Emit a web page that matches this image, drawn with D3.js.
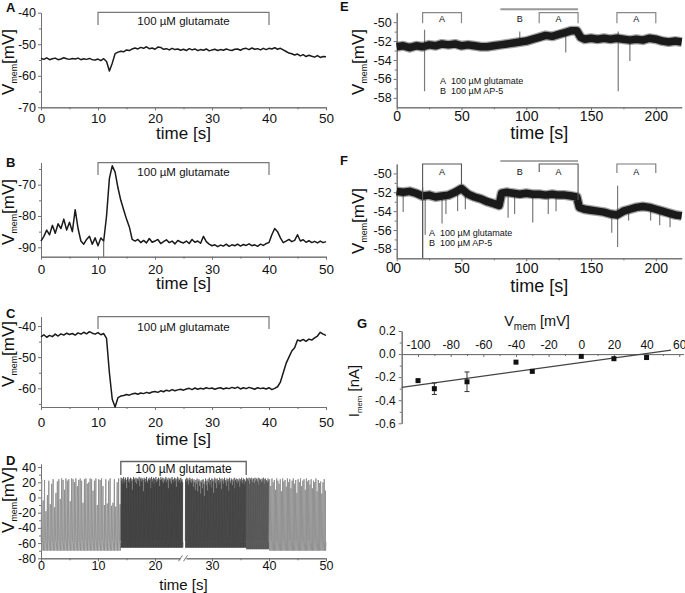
<!DOCTYPE html>
<html><head><meta charset="utf-8">
<script src="https://cdn.jsdelivr.net/npm/d3@7"></script>
<style>
body{margin:0;background:#fff;}
svg{display:block;background:#fff;}
</style></head><body>
<svg id="c" width="685" height="593"></svg>
<script>
// ---------------- DATA ----------------
const timeStepABC = 0.5; // s between samples in A, B, C
const aV = [-54.5,-54.8,-54.3,-54.9,-54.6,-54.4,-54.9,-54.7,-54.3,-54.6,
-54.8,-54.5,-54.7,-54.4,-54.9,-54.6,-54.8,-54.5,-54.9,-55.0,
-54.7,-55.2,-54.6,-55.5,-58.5,-56.0,-53.0,-52.5,-52.2,-52.4,
-51.8,-52.0,-51.5,-51.2,-51.5,-51.0,-51.3,-50.8,-51.4,-51.2,
-51.6,-50.9,-51.0,-51.6,-51.4,-51.8,-51.3,-51.7,-51.5,-51.9,
-51.6,-52.0,-51.4,-51.8,-51.5,-52.0,-51.7,-51.9,-51.5,-52.1,
-51.8,-51.6,-52.0,-51.7,-51.9,-51.5,-51.8,-52.0,-51.6,-51.5,
-51.9,-51.4,-51.3,-51.7,-51.2,-51.6,-51.4,-51.8,-51.3,-51.7,
-51.3,-51.5,-51.1,-51.6,-51.3,-51.8,-52.3,-52.8,-53.0,-53.4,
-53.1,-53.7,-53.3,-53.9,-53.5,-53.8,-54.1,-53.6,-54.2,-53.9,-54.0];
const bV = [-88.0,-86.5,-84.5,-86.0,-83.0,-85.5,-82.5,-84.0,-81.0,-84.5,
-82.0,-85.0,-78.0,-84.0,-88.0,-89.0,-87.5,-86.5,-89.0,-87.0,
-89.5,-87.0,-88.0,-80.0,-68.0,-64.0,-66.0,-71.0,-75.0,-78.0,
-81.0,-83.5,-87.5,-88.0,-87.5,-88.5,-87.8,-88.6,-87.2,-88.4,
-88.0,-87.5,-88.8,-88.2,-87.6,-88.5,-88.0,-88.9,-87.8,-88.3,
-88.6,-88.0,-88.8,-87.5,-88.4,-88.0,-88.7,-86.5,-88.2,-89.0,
-89.5,-89.2,-89.8,-89.3,-89.6,-89.0,-89.7,-89.2,-89.5,-89.0,
-89.6,-89.1,-89.4,-88.9,-89.5,-89.2,-89.7,-89.0,-89.4,-88.8,
-88.5,-86.0,-84.0,-85.0,-87.0,-88.5,-88.0,-87.5,-88.2,-87.8,
-86.0,-88.0,-87.6,-88.4,-87.9,-88.5,-88.1,-88.6,-88.0,-88.5,-88.2];
const bDropT = [11], bDropV = [-93];
const cV = [-43.5,-42.8,-43.6,-43.0,-43.4,-42.6,-43.2,-42.5,-42.9,-42.3,
-42.7,-42.4,-42.9,-42.2,-42.6,-42.0,-42.5,-41.8,-42.3,-42.6,
-42.1,-42.8,-42.4,-44.0,-55.0,-63.5,-66.0,-63.0,-62.5,-62.3,
-62.0,-62.2,-61.8,-61.6,-61.9,-61.5,-61.7,-61.3,-61.6,-61.2,
-61.0,-61.3,-60.8,-61.1,-60.6,-60.9,-60.4,-60.8,-60.5,-60.3,
-60.6,-60.2,-60.0,-60.4,-59.9,-60.3,-60.0,-60.2,-59.8,-60.1,
-59.9,-60.3,-60.0,-59.8,-60.2,-59.9,-60.1,-59.7,-60.0,-59.6,
-60.2,-59.8,-60.1,-59.7,-60.0,-60.3,-59.8,-60.1,-59.9,-60.2,
-59.8,-60.4,-60.0,-59.5,-58.0,-55.0,-52.0,-50.0,-48.0,-47.0,
-44.5,-44.8,-44.3,-44.9,-44.2,-44.5,-43.8,-43.2,-42.0,-42.6,-43.0];
// D: spike peak values (mV) per recording segment
const dSegT = [[0,14],[14,24.9],[25.3,36],[36,40],[40,50]];
const dPre = [24,-4,23,-18,3,22,-9,18,24,-13,6,21,24,-2,25,23,10,25,22,24,-5,25,24,20,25,15,23,25,22,-7,24,25,18,20,25,24,9,22,25,-10,24,23,25,15,-10,24,-8,22,25,-11,-7,24,-12,20,25,-9];
const dGlut1 = [26,22,25,18,27,24,20,26,23,12,25,27,21,24,19,26,25,22,10,24,27,23,25,20,26,18,24,25,22,27,15,24,26,21,25,23,8,26,24,20,25,27,22,19,24,26,23,25,12,27,21,24,26,18,25,23,27,20,24,22,26,25,15,23,27,24,21,26,19,25,22,24,27,20,25,23,12,26,24,21,25,18,27,23,24,20,26,22,25,14,24,27,21,25,23,19,26,22,24,20];
const dGlut2 = [24,20,26,22,25,17,23,26,21,24,19,25,22,14,24,20,10,23,18,25,8,21,24,15,22,5,20,23,12,24,18,2,21,25,16,22,9,24,20,26,17,23,13,25,21,24,6,22,26,19,24,12,25,21,23,17,26,20,24,11,25,22,18,24,26,20,23,15,25,21,24,9,26,22,19,25,23,16,24,21,26,12,23,25,20,24,18,22,25,14,24,21,26,19,23,25,17,24,22,20];
const dPost1 = [26,24,25,22,26,18,25,23,26,20,24,25,19,26,22,25,24,21,26,17,25,23,24,20,25,22,26,18,24,25,21,23,20,25,22];
const dPost2 = [24,15,25,20,23,10,25,22,18,24,8,25,21,23,14,25,20,24,12,22,25,18,23,6,24,20,25,15,22,24,10,25,21,23,17,24,12,22,20,25,8,23,19,21,5,20,24,9];
const dTrough = [-70,-66,-66,-68,-70];
// E
const eT = [0,5,10,15,20,25,30,35,40,45,50,55,60,65,70,75,80,85,90,95,100,105,110,115,120,125,130,135,139,142,145,150,155,160,165,170,175,180,185,190,195,200,205,210,215,220];
const eV = [-52.6,-52.5,-52.7,-52.5,-52.6,-52.4,-52.5,-52.3,-52.4,-52.3,-52.5,-52.4,-52.5,-52.6,-52.6,-52.5,-52.4,-52.3,-52.2,-52.1,-52.0,-51.8,-51.6,-51.4,-51.5,-51.3,-51.1,-50.9,-50.9,-51.6,-51.8,-51.7,-51.8,-51.7,-51.8,-51.7,-51.8,-51.9,-51.8,-51.9,-51.7,-51.8,-52.0,-52.1,-52.0,-52.1];
const eSpikeT = [21.5,95,130.5,171,180];
const eSpikeLo = [-57.3,-52.5,-53.2,-57.3,-54.1];
const eSpikeHi = [-50.8,-51.0,-51.0,-51.0,-51.5];
// F
const fT = [0,5,10,15,20,25,30,35,40,45,50,55,60,65,70,75,79,81,85,90,95,100,105,110,115,120,125,130,135,139,141,145,150,155,160,165,170,175,180,185,190,195,200,205,210,215,220];
const fV = [-51.9,-52.0,-51.9,-52.1,-52.4,-52.3,-52.5,-52.4,-52.3,-52.0,-51.6,-52.2,-52.5,-52.7,-53.0,-53.2,-53.4,-52.1,-52.0,-52.1,-52.2,-52.1,-52.2,-52.2,-52.3,-52.2,-52.3,-52.3,-52.4,-52.5,-53.6,-53.8,-53.9,-54.0,-54.1,-54.3,-54.4,-54.0,-53.8,-53.6,-53.5,-53.6,-53.8,-54.0,-54.2,-54.4,-54.5];
const fSpikeT = [5,20,22,35,38,47,53,86,91,105,117,123,166,170.5,179,196,203,211];
const fSpikeLo = [-54.1,-59,-56.5,-55.3,-54.3,-54.0,-53.8,-54.7,-54.3,-55.2,-54.3,-54.0,-56.3,-57.8,-55.0,-55.0,-55.5,-55.7];
const fSpikeHi = [-52,-51.5,-52.3,-52.4,-52.4,-52.1,-52.3,-52.1,-52.1,-52.2,-52.3,-52.2,-54.2,-51.3,-53.9,-53.6,-54.0,-54.2];
// brackets (s)
const glutWin = [10,40];
const glutWinD = [14,36];
const efA = [[20,50],[110,140],[170,200]];
const efB = [80,140];
const legendLetters = ["A","B"];
const legendTexts = ["100 µM glutamate","100 µM AP-5"];
// G
const gV = [-100,-90,-70,-40,-30,0,20,40];
const gI = [-0.23,-0.30,-0.24,-0.07,-0.15,-0.02,-0.04,-0.03];
const gErr = [0,0.05,0.085,0,0,0,0,0];
const gFitV = [-110,55];
const gFitI = [-0.288,0.034];
// ticks
const tMaj50 = [0,10,20,30,40,50], tMin50 = [5,15,25,35,45];
const tMaj220 = [0,50,100,150,200], tMin220 = [25,75,125,175];

// ---------------- DRAW ----------------
const FONT = '"Liberation Sans", Arial, Helvetica, sans-serif';
const AX = "#707070";
const svg = d3.select("#c").attr("font-family", FONT);
const fmt = d => (d < 0 ? "-" : "") + Math.abs(d);

function styleAx(sel, fs) {
  sel.attr("font-family", FONT).attr("font-size", fs);
  sel.select(".domain").attr("stroke", AX).attr("stroke-width", 1);
  sel.selectAll(".tick line").attr("stroke", AX);
  sel.selectAll(".tick text").attr("fill", "#111");
  return sel;
}
function text(g, x, y, s, o = {}) {
  return g.append("text").attr("x", x).attr("y", y).text(s)
    .attr("font-size", o.fs || 12).attr("text-anchor", o.anchor || "middle")
    .attr("font-weight", o.bold ? "bold" : null).attr("fill", o.fill || "#111");
}
function vLabel(g, cx, cy, fs, main, sub, rest) {
  const t = g.append("text").attr("transform", `translate(${cx},${cy}) rotate(-90)`)
    .attr("text-anchor", "middle").attr("font-size", fs).attr("fill", "#111");
  t.append("tspan").text(main);
  t.append("tspan").attr("font-size", fs * 0.52).attr("dy", fs * 0.18).text(sub);
  t.append("tspan").attr("dy", -fs * 0.18).text(rest);
  return t;
}
function timePanel(o) {
  const g = svg.append("g");
  const x = d3.scaleLinear().domain(o.xd).range(o.xr);
  const y = d3.scaleLinear().domain(o.yd).range(o.yr);
  styleAx(g.append("g").attr("transform", `translate(${o.xr[0]},0)`)
    .call(d3.axisLeft(y).tickValues(o.yMin).tickSize(2).tickFormat("").tickSizeOuter(0)), 10);
  styleAx(g.append("g").attr("transform", `translate(${o.xr[0]},0)`)
    .call(d3.axisLeft(y).tickValues(o.yMaj).tickSize(3).tickPadding(2).tickFormat(fmt).tickSizeOuter(0)), o.yfs);
  styleAx(g.append("g").attr("transform", `translate(0,${o.yr[0]})`)
    .call(d3.axisBottom(x).tickValues(o.xMin).tickSize(2).tickFormat("").tickSizeOuter(0)), 10);
  styleAx(g.append("g").attr("transform", `translate(0,${o.yr[0]})`)
    .call(d3.axisBottom(x).tickValues(o.xMaj).tickSize(3).tickPadding(o.xpad).tickFormat(fmt).tickSizeOuter(0)), o.xfs);
  text(g, (o.xr[0] + o.xr[1]) / 2, o.titleY, "time [s]", {fs: o.tfs});
  text(g, o.lab[0], o.lab[1], o.name, {fs: 13, bold: true, anchor: "start"});
  vLabel(g, o.vl[0], o.vl[1], o.vfs, "V", "mem", "[mV]");
  return {g, x, y};
}
function bracket(g, x, t0, t1, top, leg0, leg1, col, w) {
  g.append("path").attr("d", `M${x(t0)},${leg0}V${top}H${x(t1)}V${leg1}`)
    .attr("fill", "none").attr("stroke", col || "#777").attr("stroke-width", w || 1.2);
}
function trace(g, x, y, vals, col, w) {
  const line = d3.line().x((d, i) => x(i * timeStepABC)).y(d => y(d));
  g.append("path").attr("d", line(vals)).attr("fill", "none")
    .attr("stroke", col || "#1a1a1a").attr("stroke-width", w || 1.5).attr("stroke-linejoin", "round");
}
function legend(g, x0, y0, dy) {
  legendLetters.forEach((L, i) => {
    text(g, x0, y0 + i * dy, L, {fs: 9, anchor: "start"});
    text(g, x0 + 11, y0 + i * dy, legendTexts[i], {fs: 9, anchor: "start"});
  });
}

// ---- A ----
{
  const p = timePanel({xd:[0,50], xr:[41,326], yd:[-70,-40], yr:[107.3,12.7],
    yMaj:[-40,-50,-60,-70], yMin:[-45,-55,-65], xMaj:tMaj50, xMin:tMin50,
    yfs:12.5, xfs:13.5, xpad:3, titleY:139, tfs:17, lab:[6,12], name:"A", vl:[14,62], vfs:17});
  bracket(p.g, p.x, glutWin[0], glutWin[1], 12.3, 25, 25);
  text(p.g, p.x(25), 25, "100 µM glutamate", {fs: 11.5});
  trace(p.g, p.x, p.y, aV);
}
// ---- B ----
{
  const p = timePanel({xd:[0,50], xr:[41,326], yd:[-93,-63], yr:[256.7,162.7],
    yMaj:[-70,-80,-90], yMin:[-65,-75,-85], xMaj:tMaj50, xMin:tMin50,
    yfs:12.5, xfs:13.5, xpad:4.5, titleY:289, tfs:17, lab:[6,167], name:"B", vl:[14,212], vfs:17});
  bracket(p.g, p.x, glutWin[0], glutWin[1], 162.7, 175, 175);
  text(p.g, p.x(25), 175.5, "100 µM glutamate", {fs: 11.5});
  trace(p.g, p.x, p.y, bV);
  p.g.selectAll("line.drop").data(bDropT).enter().append("line")
    .attr("x1", d => p.x(d)).attr("x2", d => p.x(d))
    .attr("y1", p.y(-88)).attr("y2", (d, i) => p.y(bDropV[i]))
    .attr("stroke", "#555").attr("stroke-width", 1);
}
// ---- C ----
{
  const p = timePanel({xd:[0,50], xr:[41,326], yd:[-66,-37], yr:[407,316.7],
    yMaj:[-40,-50,-60], yMin:[-45,-55,-65], xMaj:tMaj50, xMin:tMin50,
    yfs:12.5, xfs:13.5, xpad:7, titleY:445, tfs:17, lab:[6,318], name:"C", vl:[14,354], vfs:17});
  bracket(p.g, p.x, glutWin[0], glutWin[1], 316.7, 329, 329);
  text(p.g, p.x(25), 330.5, "100 µM glutamate", {fs: 11.5});
  trace(p.g, p.x, p.y, cV);
}
// ---- D ----
{
  const p = timePanel({xd:[0,50], xr:[41,326], yd:[-80,44], yr:[558.3,464],
    yMaj:[-80,-60,-40,-20,0,20,40], yMin:[-70,-50,-30,-10,10,30], xMaj:tMaj50, xMin:tMin50,
    yfs:12.5, xfs:12.5, xpad:0, titleY:589.5, tfs:15, lab:[6,465], name:"D", vl:[14,500], vfs:17});
  const segs = [dPre, dGlut1, dGlut2, dPost1, dPost2];
  const cols = ["#8d8d8d", "#2e2e2e", "#333", "#4a4a4a", "#8d8d8d"];
  const widths = [0.9, 0.55, 0.55, 0.6, 0.9];
  const line = d3.line().x(d => p.x(d[0])).y(d => p.y(d[1]));
  segs.forEach((peaks, s) => {
    const [t0, t1] = dSegT[s], dt = (t1 - t0) / peaks.length, tr = dTrough[s];
    const pts = [];
    peaks.forEach((pk, i) => {
      const t = t0 + (i + 0.5) * dt;
      pts.push([t - 0.4 * dt, -57], [t, pk], [t + 0.12 * dt, tr], [t + 0.45 * dt, -59]);
    });
    p.g.append("path").attr("d", line(pts)).attr("fill", "none")
      .attr("stroke", cols[s]).attr("stroke-width", widths[s]);
  });
  const bx = p.x(25), by = p.y.range()[0];
  p.g.append("rect").attr("x", bx - 3).attr("y", by - 2).attr("width", 6).attr("height", 5).attr("fill", "#fff");
  p.g.append("path").attr("d", `M${bx-5},${by+3}L${bx-1},${by-3}M${bx},${by+3}L${bx+4},${by-3}`)
    .attr("stroke", AX).attr("stroke-width", 1).attr("fill", "none");
  bracket(p.g, p.x, glutWinD[0], glutWinD[1], 461.5, 475, 475, "#666", 1.4);
  p.g.append("rect").attr("x", p.x(18.5)).attr("y", 463).attr("width", p.x(31.5) - p.x(18.5)).attr("height", 12).attr("fill", "#fff");
  text(p.g, p.x(25), 473, "100 µM glutamate", {fs: 12});
}
// ---- E & F ----
function efPanel(o) {
  const p = timePanel({xd:[0,220], xr:[396.7,681.7], yd:[-59,-49], yr:o.yr,
    yMaj:[-50,-52,-54,-56,-58], yMin:[-51,-53,-55,-57], xMaj:tMaj220, xMin:tMin220,
    yfs:12.5, xfs:14, xpad:o.xpad, titleY:o.titleY, tfs:18, lab:o.lab, name:o.name, vl:o.vl, vfs:17});
  const line = d3.line().x((d, i) => p.x(o.t[i])).y(d => p.y(d));
  o.st.forEach((t, i) => {
    p.g.append("line").attr("x1", p.x(t)).attr("x2", p.x(t))
      .attr("y1", p.y(o.hi[i])).attr("y2", p.y(o.lo[i]))
      .attr("stroke", "#7a7a7a").attr("stroke-width", 1.2);
  });
  p.g.append("path").attr("d", line(o.v)).attr("fill", "none").attr("stroke", "#333")
    .attr("stroke-width", 10).attr("stroke-linejoin", "round").attr("stroke-opacity", 0.45);
  p.g.append("path").attr("d", line(o.v)).attr("fill", "none").attr("stroke", "#1a1a1a")
    .attr("stroke-width", 7.5).attr("stroke-linejoin", "round");
  return p;
}
{
  const p = efPanel({yr:[107.3,12.7], t:eT, v:eV, st:eSpikeT, lo:eSpikeLo, hi:eSpikeHi,
    xpad:1, titleY:139, lab:[340,11], name:"E", vl:[364,62]});
  p.g.append("line").attr("x1", p.x(efB[0])).attr("x2", p.x(efB[1])).attr("y1", 9.3).attr("y2", 9.3)
    .attr("stroke", "#999").attr("stroke-width", 2);
  efA.forEach(a => { bracket(p.g, p.x, a[0], a[1], 12.7, 23.3, 23.3, "#888", 1.2);
    text(p.g, p.x((a[0] + a[1]) / 2), 21.5, "A", {fs: 9}); });
  text(p.g, p.x(95), 21.5, "B", {fs: 9});
  legend(p.g, 440, 84, 10);
}
{
  const p = efPanel({yr:[258.3,164], t:fT, v:fV, st:fSpikeT, lo:fSpikeLo, hi:fSpikeHi,
    xpad:2, titleY:292, lab:[340,165], name:"F", vl:[364,221]});
  text(p.g, 390, 272, "0", {fs: 14});
  p.g.append("line").attr("x1", p.x(efB[0])).attr("x2", p.x(efB[1])).attr("y1", 161).attr("y2", 161)
    .attr("stroke", "#555").attr("stroke-width", 1);
  bracket(p.g, p.x, efA[0][0], efA[0][1], 164, 258.3, 185, "#555", 1.1);
  bracket(p.g, p.x, efA[1][0], efA[1][1], 164, 172, 200, "#555", 1.1);
  bracket(p.g, p.x, efA[2][0], efA[2][1], 164, 173, 173, "#777", 1.1);
  efA.forEach(a => text(p.g, p.x((a[0] + a[1]) / 2), 174.5, "A", {fs: 9}));
  text(p.g, p.x(95), 174.5, "B", {fs: 9});
  legend(p.g, 429, 235.5, 10);
}
// ---- G ----
{
  const g = svg.append("g");
  const x = d3.scaleLinear().domain([-110, 62.5]).range([401.7, 683.3]);
  const y = d3.scaleLinear().domain([-0.6, 0.2]).range([423.3, 331]);
  styleAx(g.append("g").attr("transform", "translate(401.7,0)")
    .call(d3.axisLeft(y).tickValues([0.1,-0.1,-0.3,-0.5]).tickSize(2).tickFormat("").tickSizeOuter(0)), 10);
  styleAx(g.append("g").attr("transform", "translate(401.7,0)")
    .call(d3.axisLeft(y).tickValues([0.2,0,-0.2,-0.4,-0.6]).tickSize(3).tickPadding(3)
      .tickFormat(d => (d < 0 ? "-" : "") + Math.abs(d).toFixed(1)).tickSizeOuter(0)), 12);
  styleAx(g.append("g").attr("transform", `translate(0,${y(0)})`)
    .call(d3.axisTop(x).tickValues([-90,-70,-50,-30,-10,10,30,50]).tickSize(-2).tickFormat("").tickSizeOuter(0)), 10);
  styleAx(g.append("g").attr("transform", `translate(0,${y(0)})`)
    .call(d3.axisTop(x).tickValues([-100,-80,-60,-40,-20,0,20,40,60]).tickSize(-3).tickPadding(5)
      .tickFormat(fmt).tickSizeOuter(0)), 12);
  g.append("line").attr("x1", x(gFitV[0])).attr("y1", y(gFitI[0])).attr("x2", x(gFitV[1])).attr("y2", y(gFitI[1]))
    .attr("stroke", "#444").attr("stroke-width", 1.2);
  gV.forEach((v, i) => {
    if (gErr[i] > 0) {
      const e = gErr[i];
      g.append("path").attr("d", `M${x(v)},${y(gI[i]-e)}V${y(gI[i]+e)}M${x(v)-2.5},${y(gI[i]-e)}H${x(v)+2.5}M${x(v)-2.5},${y(gI[i]+e)}H${x(v)+2.5}`)
        .attr("stroke", "#333").attr("stroke-width", 1).attr("fill", "none");
    }
  });
  g.selectAll("rect.pt").data(gV).enter().append("rect")
    .attr("x", d => x(d) - 2.5).attr("y", (d, i) => y(gI[i]) - 2.5).attr("width", 5).attr("height", 5).attr("fill", "#111");
  const t = g.append("text").attr("x", 537).attr("y", 326).attr("text-anchor", "middle").attr("font-size", 14.5).attr("fill", "#111");
  t.append("tspan").text("V");
  t.append("tspan").attr("font-size", 10).attr("dy", 4).text("mem");
  t.append("tspan").attr("dy", -4).text(" [mV]");
  vLabel(g, 359, 391, 15, "I", "mem", " [nA]");
  text(g, 357, 328, "G", {fs: 13, bold: true, anchor: "start"});
}
</script>
</body></html>
